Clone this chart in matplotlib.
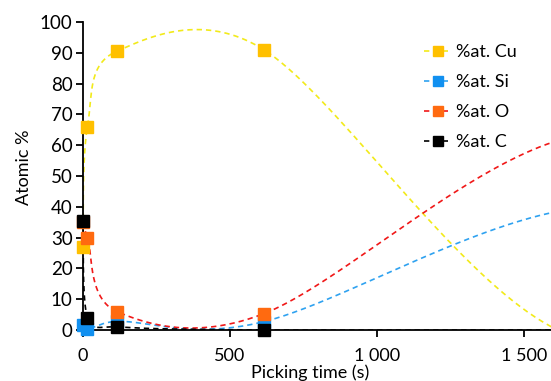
import numpy as np
import matplotlib
matplotlib.use("Agg")
from matplotlib import pyplot as plt

plt.rcParams['font.family'] = ['Lato', 'DejaVu Sans']

# picking times (s); the last two points lie past the right edge of the plot
t = [0, 15, 115, 615, 1615, 2615]
cu = [27, 66, 90.5, 91, 0, 0]
si = [1.6, 0.3, 2.8, 2.7, 38.5, 40]
ox = [35, 30, 6, 5.3, 61.5, 64]
c = [35.5, 4, 1, 0, 0, 0]

labels = ["%at. Cu", "%at. Si", "%at. O", "%at. C"]
marker_colors = ["#FFC000", "#1190F0", "#FF6A10", "#000000"]
line_colors = ["#F2EA1A", "#2FA2F0", "#F01818", "#000000"]

xticks = [0, 500, 1000, 1500]
xticklabels = ["0", "500", "1 000", "1 500"]

W, H = 551, 381
xmax = 1592
fig = plt.figure(figsize=(W/100, H/100), dpi=100)
ax = fig.add_axes([83/W, 51/H, 1 - 83/W, 308/H])

# px per data unit, used so the smoothing works in screen space like Excel
sx = (W - 83)/xmax
sy = 308/100.0


def excel_smooth(x, y, n=80):
    P = np.column_stack([np.asarray(x, float)*sx, np.asarray(y, float)*sy])
    out = [P[:1]]
    for i in range(len(P) - 1):
        p0 = P[i-1] if i > 0 else P[i]
        p1, p2 = P[i], P[i+1]
        p3 = P[i+2] if i + 2 < len(P) else P[i+1]
        d02 = np.hypot(*(p2 - p0))
        d12 = np.hypot(*(p2 - p1))
        d13 = np.hypot(*(p3 - p1))
        f1 = 1/6 if d02/6 < d12/2 else d12/(2*d02)
        f2 = 1/6 if d13/6 < d12/2 else d12/(2*d13)
        c1 = p1 + f1*(p2 - p0)
        c2 = p2 - f2*(p3 - p1)
        s = np.linspace(0, 1, n)[1:, None]
        B = (1-s)**3*p1 + 3*(1-s)**2*s*c1 + 3*(1-s)*s**2*c2 + s**3*p2
        out.append(B)
    B = np.vstack(out)
    return B[:, 0]/sx, B[:, 1]/sy


series = [cu, si, ox, c]
for ys, lc in zip(series, line_colors):
    xs_, ys_ = excel_smooth(t, ys)
    ax.plot(xs_, ys_, color=lc, lw=1.2, dashes=(3.2, 2.4), zorder=2)

handles = []
for ys, mc, lc, lab in zip(series, marker_colors, line_colors, labels):
    ax.plot(t[:4], ys[:4], ls="none", marker="s", ms=8.2, mfc=mc, mec=mc,
            clip_on=False, zorder=3)
    h, = ax.plot([], [], color=lc, lw=1.2, dashes=(3.2, 2.4), marker="s",
                 ms=7.5, mfc=mc, mec=mc, label=lab)
    handles.append(h)

ax.set_xlim(0, xmax)
ax.set_ylim(0, 100)
ax.set_yticks(range(0, 101, 10))
ax.set_xticks(xticks)
ax.set_xticklabels(xticklabels)
ax.spines['top'].set_visible(False)
ax.spines['right'].set_visible(False)
for sp in ['left', 'bottom']:
    ax.spines[sp].set_linewidth(1.3)
    ax.spines[sp].set_zorder(2.5)
ax.tick_params(axis='both', labelsize=13, length=5, width=1.3, direction='out')
ax.tick_params(axis='y', labelsize=13.5, pad=2.5)
ax.tick_params(axis='x', pad=8)

ax.set_xlabel("Picking time (s)", fontsize=13)
ax.xaxis.set_label_coords(0.486, -0.111)
ax.set_ylabel("Atomic %", fontsize=13)
ax.yaxis.set_label_coords(-0.108, 0.53)

leg = ax.legend(handles=handles, loc='upper left', bbox_to_anchor=(424/W, 1 - 44/H),
                bbox_transform=fig.transFigure, frameon=False, fontsize=13,
                handlelength=1.5, handletextpad=0.3, labelspacing=0.78,
                borderaxespad=0, borderpad=0)

fig.savefig("out.png", dpi=100)
